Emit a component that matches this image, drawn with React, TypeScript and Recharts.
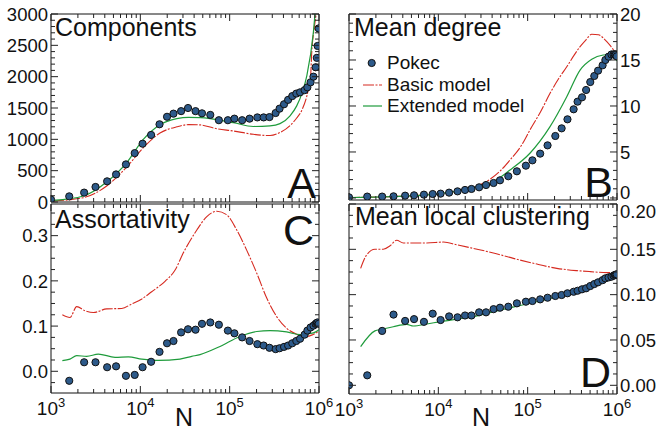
import React from "react";
import { ComposedChart, Line, XAxis, YAxis, ReferenceArea, Legend } from "recharts";

const W = 658;
const H = 430;
const FONT = '"Liberation Sans", Arial, Helvetica, sans-serif';
const RED = "#d62a20";
const GREEN = "#1e9b3b";
const DOT = "#2d5a8a";
const RED_DASH = "11 1.5 2 1.5";
const AXIS_W = 40;
const AXIS_H = 30;

// network size N of each Pokec snapshot
const sampleN = [
  1000, 1600, 2350, 3150, 4250, 5350, 6900, 8650, 10600, 13200, 16400, 19900, 23500, 28600, 34200,
  41500, 49000, 60700, 75700, 95500, 113000, 138000, 167000, 204000, 240000, 279000, 327000, 362000,
  406000, 451000, 502000, 557000, 614000, 690000, 741000, 805000, 867000, 916000, 945000, 965000, 991000,
];

const componentsPokec = [
  40, 90, 150, 240, 330, 440, 600, 780, 930, 1070, 1240, 1360, 1410, 1450, 1500, 1450, 1415, 1390,
  1305, 1305, 1330, 1305, 1330, 1350, 1350, 1355, 1420, 1490, 1560, 1630, 1690, 1730, 1750, 1785,
  1830, 1910, 2000, 2150, 2300, 2490, 2770,
];
const degreePokec = [
  0.07, 0.15, 0.15, 0.18, 0.25, 0.29, 0.36, 0.43, 0.47, 0.58, 0.72, 0.87, 0.98, 1.16, 1.41, 1.63,
  1.92, 2.36, 2.9, 3.51, 4.09, 4.82, 5.72, 6.74, 7.57, 8.55, 9.64, 10.47, 10.94, 11.74, 12.6, 13.26,
  13.84, 14.42, 15.0, 15.36, 15.6, 15.6, 15.6, 15.55, 15.4,
];
const assortPokec = [
  null, -0.021, 0.02, 0.02, 0.009, 0.011, -0.01, -0.008, 0.009, 0.021, 0.043, 0.062, 0.067, 0.086,
  0.093, 0.092, 0.105, 0.108, 0.103, 0.09, 0.084, 0.075, 0.067, 0.06, 0.057, 0.052, 0.049, 0.051,
  0.054, 0.057, 0.062, 0.067, 0.072, 0.081, 0.09, 0.097, 0.101, 0.105, 0.107, 0.108, 0.105,
];
const clusteringPokec = [
  0.0, 0.011, 0.06, 0.078, 0.071, 0.073, 0.07, 0.079, 0.072, 0.076, 0.075, 0.077, 0.077, 0.0805,
  0.0805, 0.084, 0.0856, 0.0867, 0.0904, 0.0922, 0.093, 0.0948, 0.0966, 0.0985, 0.0996, 0.1015,
  0.1032, 0.1043, 0.1059, 0.107, 0.1095, 0.1117, 0.1136, 0.116, 0.118, 0.119, 0.1198, 0.1209, 0.1217,
  0.122, 0.1224,
];

// model curves
const componentsBasicN = [1060, 2300, 4200, 7050, 10800, 16600, 25600, 34500, 46700, 71700, 110000, 184000, 283000, 366000, 474000, 563000, 650000, 760000, 806000, 830000, 880000, 929000];
const componentsBasic = [16, 69, 255, 559, 867, 1100, 1200, 1235, 1230, 1170, 1133, 1080, 1060, 1110, 1220, 1340, 1480, 1800, 2014, 2400, 2750, 3000];
const componentsExtN = [1060, 2300, 4200, 7050, 10800, 16600, 25600, 34500, 46700, 60400, 110000, 184000, 283000, 366000, 474000, 563000, 650000, 730000, 865000, 903000];
const componentsExt = [25, 96, 319, 628, 1000, 1234, 1330, 1351, 1345, 1330, 1266, 1205, 1215, 1250, 1375, 1534, 1750, 2014, 2707, 3000];

const degreeBasicN = [1000, 3000, 10000, 20000, 30000, 37900, 50000, 63500, 85000, 106000, 140000, 178000, 220000, 274000, 330000, 386000, 450000, 522000, 620000, 700000, 769000, 850000, 912000, 1000000];
const degreeBasic = [0.05, 0.15, 0.45, 0.95, 1.5, 2.03, 3.0, 4.13, 5.7, 7.39, 9.4, 11.38, 12.9, 14.27, 15.5, 16.45, 17.2, 17.8, 17.75, 17.4, 17.0, 16.5, 16.1, 15.4];
const degreeExtN = [1000, 3000, 10000, 20000, 30000, 37900, 63500, 106000, 178000, 274000, 386000, 522000, 700000, 850000, 1000000];
const degreeExt = [0.05, 0.15, 0.45, 0.9, 1.35, 1.6, 3.04, 4.86, 7.75, 11.0, 13.9, 15.08, 15.54, 15.6, 14.9];

const assortBasicN = [1340, 1630, 1940, 2400, 2980, 4210, 6190, 8020, 10400, 13400, 18900, 24500, 30300, 42900, 55500, 71800, 93000, 120000, 155000, 201000, 260000, 336000, 435000, 563000, 729000, 850000, 1000000];
const assortBasic = [0.125, 0.119, 0.143, 0.134, 0.13, 0.138, 0.139, 0.149, 0.16, 0.176, 0.199, 0.224, 0.262, 0.3125, 0.342, 0.354, 0.346, 0.3125, 0.268, 0.217, 0.162, 0.121, 0.095, 0.082, 0.077, 0.081, 0.089];
const assortExtN = [1340, 1630, 1940, 2510, 3390, 5210, 7340, 10400, 15900, 27800, 37600, 46600, 78000, 130000, 201000, 283000, 434000, 614000, 865000, 1000000];
const assortExt = [0.0236, 0.027, 0.0346, 0.033, 0.038, 0.031, 0.032, 0.027, 0.024, 0.027, 0.033, 0.037, 0.055, 0.077, 0.088, 0.09, 0.087, 0.081, 0.085, 0.092];

const clusteringBasicN = [1350, 1580, 1950, 2420, 2880, 3420, 4060, 5250, 7410, 11400, 16100, 24700, 41300, 69200, 116000, 212000, 355000, 500000, 769000, 1000000];
const clusteringBasic = [0.129, 0.144, 0.15, 0.15, 0.154, 0.16, 0.157, 0.157, 0.157, 0.158, 0.155, 0.151, 0.146, 0.14, 0.1346, 0.129, 0.1265, 0.1254, 0.1243, 0.1245];
const clusteringExtN = [1350, 1950, 2320, 3130, 4430, 5250, 7410, 10450, 16100, 24700, 34800, 53300, 126000, 299000, 595000, 835000, 1000000];
const clusteringExt = [0.0426, 0.06, 0.0617, 0.0646, 0.0672, 0.0654, 0.0676, 0.0702, 0.0731, 0.0757, 0.0794, 0.0838, 0.0922, 0.1015, 0.1106, 0.1169, 0.1198];

// axis ticks
const xMajor = [1e3, 1e4, 1e5, 1e6];
const xMinor = [
  2e3, 3e3, 4e3, 5e3, 6e3, 7e3, 8e3, 9e3,
  2e4, 3e4, 4e4, 5e4, 6e4, 7e4, 8e4, 9e4,
  2e5, 3e5, 4e5, 5e5, 6e5, 7e5, 8e5, 9e5,
];
const componentsTicks = [0, 500, 1000, 1500, 2000, 2500, 3000];
const componentsMinor = [100, 200, 300, 400, 600, 700, 800, 900, 1100, 1200, 1300, 1400, 1600, 1700, 1800, 1900, 2100, 2200, 2300, 2400, 2600, 2700, 2800, 2900];
const degreeTicks = [0, 5, 10, 15, 20];
const degreeMinor = [1, 2, 3, 4, 6, 7, 8, 9, 11, 12, 13, 14, 16, 17, 18, 19];
const assortTicks = [0, 0.1, 0.2, 0.3];
const assortMinor = [-0.025, 0.025, 0.05, 0.075, 0.125, 0.15, 0.175, 0.225, 0.25, 0.275, 0.325, 0.35];
const clusteringTicks = [0, 0.05, 0.1, 0.15, 0.2];
const clusteringMinor = [0.0125, 0.025, 0.0375, 0.0625, 0.075, 0.0875, 0.1125, 0.125, 0.1375, 0.1625, 0.175, 0.1875];

const legendOrder = ["Pokec", "Basic model", "Extended model"];

type Pt = { n: number; v: number };
const zip = (ns: number[], vs: (number | null)[]): Pt[] =>
  ns.map((n, i) => ({ n, v: vs[i] as number })).filter((p) => p.v !== null && p.v !== undefined);

interface PanelCfg {
  left: number;
  top: number;
  width: number;
  height: number;
  yDomain: [number, number];
  yMajor: number[];
  yMinor: number[];
  side: "left" | "right";
  digits: number;
  xLabels: boolean;
  pokec: Pt[];
  basic: Pt[];
  extended: Pt[];
  legend?: boolean;
  nudge?: { value: number; dy: number }[];
}

const panels: PanelCfg[] = [
  {
    left: 51, top: 14, width: 268, height: 188, yDomain: [0, 3000],
    yMajor: componentsTicks, yMinor: componentsMinor, side: "left", digits: 0, xLabels: false,
    pokec: zip(sampleN, componentsPokec), basic: zip(componentsBasicN, componentsBasic),
    extended: zip(componentsExtN, componentsExt),
  },
  {
    left: 349, top: 14, width: 268, height: 186, yDomain: [-0.22, 20],
    yMajor: degreeTicks, yMinor: degreeMinor, side: "right", digits: 0, xLabels: false,
    pokec: zip(sampleN, degreePokec), basic: zip(degreeBasicN, degreeBasic),
    extended: zip(degreeExtN, degreeExt), legend: true, nudge: [{ value: 0, dy: -6 }],
  },
  {
    left: 51, top: 204, width: 268, height: 189, yDomain: [-0.048, 0.37],
    yMajor: assortTicks, yMinor: assortMinor, side: "left", digits: 1, xLabels: true,
    pokec: zip(sampleN, assortPokec), basic: zip(assortBasicN, assortBasic),
    extended: zip(assortExtN, assortExt),
  },
  {
    left: 349, top: 204, width: 268, height: 190, yDomain: [-0.0096, 0.2],
    yMajor: clusteringTicks, yMinor: clusteringMinor, side: "right", digits: 2, xLabels: true,
    pokec: zip(sampleN, clusteringPokec), basic: zip(clusteringBasicN, clusteringBasic),
    extended: zip(clusteringExtN, clusteringExt), nudge: [{ value: 0.2, dy: 7 }],
  },
];

const near = (a: number, b: number) => Math.abs(a - b) < 1e-9;

function YTick(props: any) {
  const { x, y, payload, cfg } = props;
  const v = payload.value as number;
  const major = cfg.yMajor.some((m: number) => near(m, v));
  const len = major ? 7 : 4;
  const s = cfg.side === "left" ? 1 : -1;
  const far = x + s * cfg.width;
  const dy = cfg.nudge?.find((n: any) => near(n.value, v))?.dy ?? 0;
  return (
    <g>
      <line x1={x} y1={y} x2={x + s * len} y2={y} stroke="#222" strokeWidth={1} />
      <line x1={far} y1={y} x2={far - s * len} y2={y} stroke="#222" strokeWidth={1} />
      {major && (
        <text
          x={x - s * 3}
          y={y + dy}
          dy="0.36em"
          textAnchor={s === 1 ? "end" : "start"}
          fontSize={18.5}
          fontFamily={FONT}
          fill="#111"
        >
          {v.toFixed(cfg.digits)}
        </text>
      )}
    </g>
  );
}

function XTick(props: any) {
  const { x, y, payload, cfg } = props;
  const v = payload.value as number;
  const major = xMajor.includes(v);
  const len = major ? 7 : 4;
  const top = y - cfg.height;
  return (
    <g>
      <line x1={x} y1={y} x2={x} y2={y - len} stroke="#222" strokeWidth={1} />
      <line x1={x} y1={top} x2={x} y2={top + len} stroke="#222" strokeWidth={1} />
      {cfg.xLabels && major && (
        <text x={x} y={y + 22} textAnchor="middle" fontSize={19} fontFamily={FONT} fill="#111">
          10
          <tspan dy={-8} fontSize={13}>
            {Math.round(Math.log10(v))}
          </tspan>
        </text>
      )}
    </g>
  );
}

function LegendBox({ payload }: any) {
  const items = [...(payload ?? [])].sort(
    (a: any, b: any) => legendOrder.indexOf(a.value) - legendOrder.indexOf(b.value)
  );
  return (
    <div style={{ fontFamily: FONT, fontSize: 19, color: "#111", lineHeight: "21.7px" }}>
      {items.map((e: any) => (
        <div key={e.value} style={{ display: "flex", alignItems: "center", height: 21.7 }}>
          <svg width={26} height={20}>
            {e.value === "Pokec" ? (
              <circle cx={10.7} cy={10} r={3.6} fill={DOT} stroke="#111" strokeWidth={1} />
            ) : (
              <line
                x1={2}
                x2={21}
                y1={10}
                y2={10}
                stroke={e.value === "Basic model" ? RED : GREEN}
                strokeWidth={1.2}
                strokeDasharray={e.value === "Basic model" ? RED_DASH : undefined}
              />
            )}
          </svg>
          <span>{e.value}</span>
        </div>
      ))}
    </div>
  );
}

function Panel({ cfg }: { cfg: PanelCfg }) {
  const margin = {
    top: cfg.top,
    left: cfg.side === "left" ? cfg.left - AXIS_W : cfg.left,
    right: W - cfg.left - cfg.width - (cfg.side === "right" ? AXIS_W : 0),
    bottom: H - cfg.top - cfg.height - AXIS_H,
  };
  const yTicks = [...cfg.yMajor, ...cfg.yMinor].sort((a, b) => a - b);
  return (
    <div style={{ position: "absolute", left: 0, top: 0 }}>
      <ComposedChart width={W} height={H} margin={margin}>
        <XAxis
          dataKey="n"
          type="number"
          scale="log"
          domain={[1000, 1000000]}
          allowDataOverflow
          ticks={[...xMajor, ...xMinor].sort((a, b) => a - b)}
          interval={0}
          height={AXIS_H}
          tickSize={0}
          tickMargin={0}
          axisLine={false}
          tickLine={false}
          tick={(p: any) => <XTick {...p} cfg={cfg} />}
        />
        <YAxis
          type="number"
          orientation={cfg.side}
          domain={cfg.yDomain}
          allowDataOverflow
          ticks={yTicks}
          interval={0}
          width={AXIS_W}
          tickSize={0}
          tickMargin={0}
          axisLine={false}
          tickLine={false}
          tick={(p: any) => <YTick {...p} cfg={cfg} />}
        />
        <ReferenceArea
          x1={1000}
          x2={1000000}
          y1={cfg.yDomain[0]}
          y2={cfg.yDomain[1]}
          fill="none"
          stroke="#111"
          strokeWidth={1}
          ifOverflow="visible"
        />
        <Line
          data={cfg.pokec}
          dataKey="v"
          name="Pokec"
          legendType="circle"
          stroke="none"
          dot={{ r: 3.6, fill: DOT, stroke: "#111", strokeWidth: 1 }}
          activeDot={false}
          isAnimationActive={false}
        />
        <Line
          data={cfg.basic}
          dataKey="v"
          name="Basic model"
          type="monotone"
          stroke={RED}
          strokeWidth={1.1}
          strokeDasharray={RED_DASH}
          dot={false}
          activeDot={false}
          isAnimationActive={false}
        />
        <Line
          data={cfg.extended}
          dataKey="v"
          name="Extended model"
          type="monotone"
          stroke={GREEN}
          strokeWidth={1.2}
          dot={false}
          activeDot={false}
          isAnimationActive={false}
        />
        {cfg.legend && (
          <Legend
            layout="horizontal"
            verticalAlign="middle"
            align="center"
            wrapperStyle={{ left: 361, top: 52, width: 200, height: 70 }}
            content={LegendBox}
          />
        )}
      </ComposedChart>
    </div>
  );
}

export default function App() {
  const txt = { fontFamily: FONT, fill: "#111" };
  return (
    <div style={{ position: "absolute", left: 0, top: 0, width: W, height: H, background: "#fff" }}>
      {panels.map((p, i) => (
        <Panel key={i} cfg={p} />
      ))}
      <svg width={W} height={H} style={{ position: "absolute", left: 0, top: 0, pointerEvents: "none" }}>
        <text x={55} y={36} fontSize={25} {...txt}>Components</text>
        <text x={354} y={36} fontSize={25} {...txt}>Mean degree</text>
        <text x={55} y={228} fontSize={25} {...txt}>Assortativity</text>
        <text x={355} y={225} fontSize={25} {...txt}>Mean local clustering</text>
        <text x={316} y={198} fontSize={43} textAnchor="end" {...txt}>A</text>
        <text x={613} y={197} fontSize={43} textAnchor="end" {...txt}>B</text>
        <text x={314} y={245} fontSize={43} textAnchor="end" {...txt}>C</text>
        <text x={611} y={387} fontSize={43} textAnchor="end" {...txt}>D</text>
        <text x={184} y={426} fontSize={25} textAnchor="middle" {...txt}>N</text>
        <text x={481} y={426} fontSize={25} textAnchor="middle" {...txt}>N</text>
      </svg>
    </div>
  );
}
